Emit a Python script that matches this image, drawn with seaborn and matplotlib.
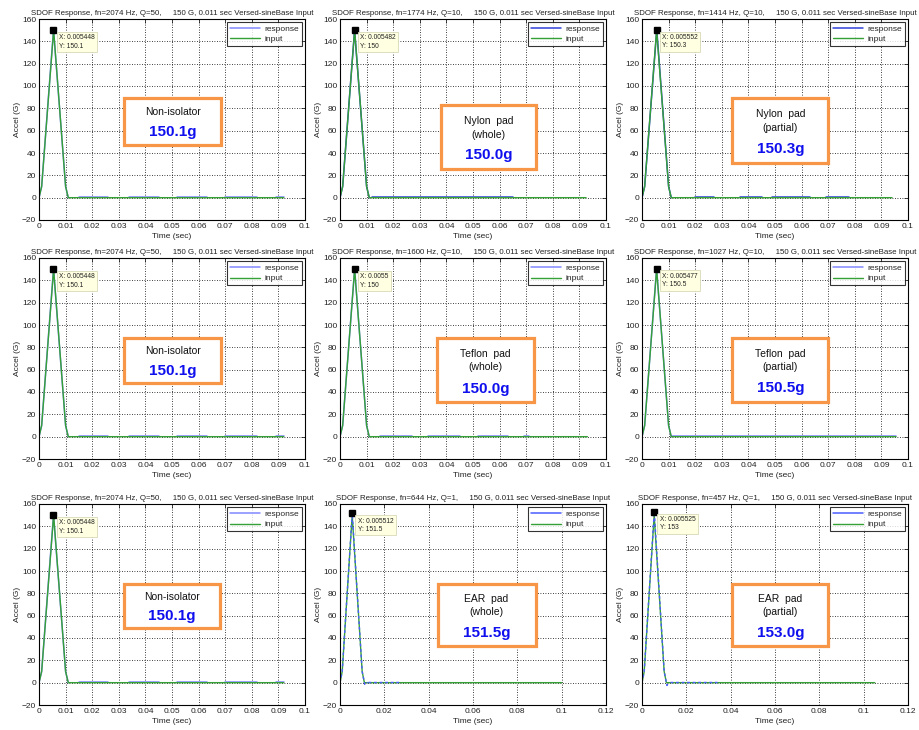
import matplotlib
matplotlib.use("Agg")
import numpy as np
import pandas as pd
import seaborn as sns
import matplotlib.pyplot as plt
from matplotlib.lines import Line2D
from matplotlib.patches import Rectangle
from matplotlib.ticker import MultipleLocator, FuncFormatter

sns.set_theme(style="white")
plt.rcParams['font.family'] = ['Liberation Sans', 'DejaVu Sans']

# --- data ---
fn_hz = [2074, 1774, 1414, 2074, 1600, 1027, 2074, 644, 457]
q_val = [50, 10, 10, 50, 10, 10, 50, 1, 1]
pad_names = ["Non-isolator", "Nylon  pad\n(whole)", "Nylon  pad\n(partial)",
             "Non-isolator", "Teflon  pad\n(whole)", "Teflon  pad\n(partial)",
             "Non-isolator", "EAR  pad\n(whole)", "EAR  pad\n(partial)"]
peak_labels = ["150.1g", "150.0g", "150.3g", "150.1g", "150.0g", "150.5g",
               "150.1g", "151.5g", "153.0g"]

# datatip on the response peak
peak_t = [0.005448, 0.005482, 0.005552, 0.005448, 0.0055, 0.005477, 0.005448, 0.005512, 0.005525]
peak_g = [150.1, 150.0, 150.3, 150.1, 150.0, 150.5, 150.1, 151.5, 153.0]

# input pulse (150 G, 0.011 s), zero afterwards until the end of the record
input_t = [0.0, 0.001, 0.0055, 0.010, 0.011]
input_g = [0.0, 10.0, 150.0, 10.0, 0.0]
input_end = [0.092, 0.0925, 0.094, 0.092, 0.093, 0.0955, 0.092, 0.100, 0.105]

# response: rise/fall points, undershoot after the pulse, residual ringing
resp_rise_t = [0.0, 0.001]
resp_rise_g = [0.0, 10.0]
resp_fall_t = [0.010, 0.011]
resp_fall_g = [10.0, 0.0]
resp_dip = [0.0, 0.0, 0.0, 0.0, 0.0, 0.0, 0.0, -2.0, -2.5]
tail_on = [
    [0.015, 0.026, 0.034, 0.045, 0.052, 0.063, 0.070, 0.082, 0.089, 0.092],
    [0.012, 0.065],
    [0.020, 0.027, 0.037, 0.045, 0.049, 0.063, 0.069, 0.078],
    [0.015, 0.026, 0.034, 0.045, 0.052, 0.063, 0.070, 0.082, 0.089, 0.092],
    [0.015, 0.027, 0.033, 0.045, 0.052, 0.063, 0.069, 0.071],
    [0.011, 0.0955],
    [0.015, 0.026, 0.034, 0.045, 0.052, 0.063, 0.070, 0.082, 0.089, 0.092],
    [0.0125, 0.027],
    [0.0125, 0.034],
]
tail_level = [0.8, 0.5, 0.6, 0.8, 0.8, 0.6, 0.8, 0.3, 0.3]

x_max = [0.1, 0.1, 0.1, 0.1, 0.1, 0.1, 0.1, 0.12, 0.12]
x_step = [0.01, 0.01, 0.01, 0.01, 0.01, 0.01, 0.01, 0.02, 0.02]

# --- layout / style ---
W, H = 919, 730
col_left = [39, 340, 642]
row_top = [19, 258, 504]
ax_w, ax_h = 266, 201
# box in axes fraction: x0, x1, top (from top), bottom (from top)
box_pos = [(0.32, 0.684, 0.395, 0.625), (0.378, 0.738, 0.43, 0.745), (0.34, 0.70, 0.395, 0.715),
           (0.32, 0.684, 0.396, 0.624), (0.366, 0.728, 0.396, 0.718), (0.34, 0.70, 0.396, 0.714),
           (0.32, 0.68, 0.396, 0.619), (0.367, 0.735, 0.396, 0.708), (0.34, 0.70, 0.396, 0.708)]
resp_color = ['#8088ff', '#3040d8', '#3040d8', '#8088ff', '#8088ff', '#8088ff',
              '#8088ff', '#4a5cff', '#4a5cff']
green = '#35a035'
orange = '#f79646'

fig = plt.figure(figsize=(W / 100, H / 100), dpi=100)

for i in range(9):
    r, c = divmod(i, 3)
    ax = fig.add_axes([col_left[c] / W, 1 - (row_top[r] + ax_h) / H, ax_w / W, ax_h / H])

    # response frame: segment 0 is the pulse, the rest is the ringing tail
    rt = resp_rise_t + [peak_t[i]] + resp_fall_t
    rg = resp_rise_g + [peak_g[i]] + resp_fall_g
    seg = [0] * len(rt)
    if resp_dip[i] != 0:
        rt += [0.0112, 0.0125]
        rg += [resp_dip[i], tail_level[i]]
        seg += [0, 0]
    pairs = tail_on[i]
    for k in range(0, len(pairs), 2):
        rt += [pairs[k], pairs[k + 1]]
        rg += [tail_level[i], tail_level[i]]
        seg += [k + 1, k + 1]
    resp_df = pd.DataFrame({'t': rt, 'g': rg, 'seg': seg})
    in_df = pd.DataFrame({'t': input_t + [input_end[i]], 'g': input_g + [0.0]})

    ear = resp_dip[i] != 0
    if not ear:
        sns.lineplot(data=resp_df, x='t', y='g', units='seg', estimator=None, sort=False,
                     color=resp_color[i], lw=1.1, ax=ax)
    sns.lineplot(data=in_df, x='t', y='g', color=green, lw=1.0, ax=ax)
    if ear:
        sns.lineplot(data=resp_df, x='t', y='g', units='seg', estimator=None, sort=False,
                     color=resp_color[i], lw=1.0, ls=(0, (2, 2)), ax=ax)

    ax.set_xlim(0, x_max[i])
    ax.set_ylim(-20, 160)
    ax.xaxis.set_major_locator(MultipleLocator(x_step[i]))
    ax.yaxis.set_major_locator(MultipleLocator(20))
    ax.xaxis.set_major_formatter(FuncFormatter(lambda v, p: f"{v:g}"))
    ax.grid(True, color='black', linestyle=(0, (1, 2)), linewidth=0.6)
    ax.tick_params(direction='in', top=True, right=True, labelsize=6, length=3,
                   width=0.6, pad=2, colors='#222222')
    for s in ax.spines.values():
        s.set_color('black')
        s.set_linewidth(0.8)
    ax.set_title(f"SDOF Response, fn={fn_hz[i]} Hz, Q={q_val[i]},     150 G, 0.011 sec Versed-sineBase Input",
                 fontsize=5.7, pad=3, color='#222222')
    ax.set_xlabel('Time (sec)', fontsize=6, labelpad=2, color='#222222')
    ax.set_ylabel('Accel (G)', fontsize=6, labelpad=1, color='#222222')

    handles = [Line2D([], [], color=resp_color[i], lw=1.1), Line2D([], [], color=green, lw=1.0)]
    leg = ax.legend(handles, ['response', 'input'], loc='upper right', fontsize=6, frameon=True,
                    fancybox=False, edgecolor='black', borderaxespad=0.35, handlelength=3.6,
                    labelspacing=0.35, borderpad=0.35, handletextpad=0.5)
    leg.get_frame().set_linewidth(0.8)

    # datatip
    ax.plot([peak_t[i]], [peak_g[i]], marker='s', ms=4, color='black', zorder=6)
    ax.annotate(f"X: {peak_t[i]:g}\nY: {peak_g[i]:g}", xy=(peak_t[i], peak_g[i]),
                xytext=(4, -3), textcoords='offset points', ha='left', va='top',
                fontsize=4.8, color='#222222', zorder=7, linespacing=1.3,
                bbox=dict(boxstyle='square,pad=0.35', fc='#ffffe1', ec='#d8d8b8', lw=0.6))

    # orange label box
    x0, x1, t0, b0 = box_pos[i]
    ax.add_patch(Rectangle((x0, 1 - b0), x1 - x0, b0 - t0, transform=ax.transAxes,
                           fc='white', ec=orange, lw=2.3, zorder=8))
    xc = (x0 + x1) / 2
    bh = b0 - t0
    lines = pad_names[i].split('\n')
    if len(lines) == 1:
        ypos = [0.30]
        yval = 0.72
    else:
        ypos = [0.25, 0.46]
        yval = 0.79
    for ln, yp in zip(lines, ypos):
        ax.text(xc, 1 - (t0 + yp * bh), ln, transform=ax.transAxes, ha='center', va='center',
                fontsize=7.5, color='#111111', zorder=9)
    ax.text(xc, 1 - (t0 + yval * bh), peak_labels[i], transform=ax.transAxes, ha='center',
            va='center', fontsize=11, fontweight='bold', color='#1010ee', zorder=9)

fig.savefig('out.png', dpi=100, facecolor='white')
